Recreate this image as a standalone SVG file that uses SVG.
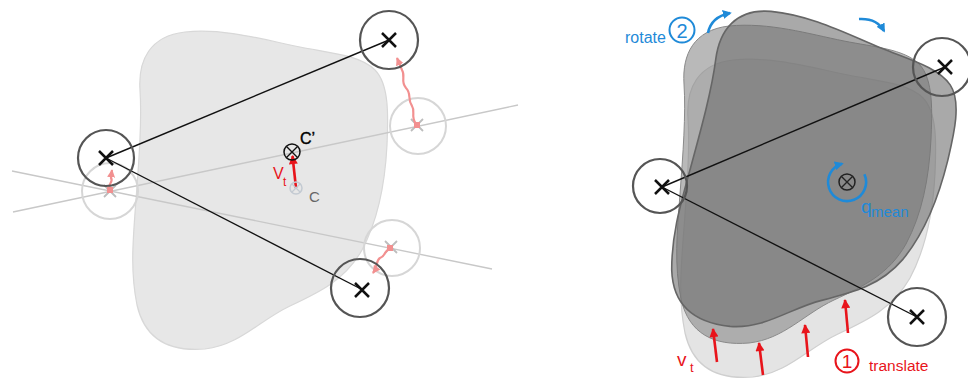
<svg xmlns="http://www.w3.org/2000/svg" width="968" height="379" viewBox="0 0 968 379">
<style>
text{font-family:"Liberation Sans",Arial,sans-serif}
.ring{fill:none;stroke:#555;stroke-width:2.2}
.faint{fill:none;stroke:#d6d6d6;stroke-width:2}
.xm{stroke:#111;stroke-width:2.5;fill:none}
.fx{stroke:#bdbdbd;stroke-width:1.8;fill:none}
.link{stroke:#111;stroke-width:1.4;fill:none}
.guide{stroke:#c8c8c8;stroke-width:1.4;fill:none}
.pink{stroke:#f29090;stroke-width:2.2;fill:none;marker-end:url(#pk)}
.red{stroke:#e8141b;stroke-width:2.6;fill:none;marker-end:url(#rd)}
.blue{stroke:#1f8ad8;stroke-width:2.6;fill:none;marker-end:url(#bl)}
.blk{fill:#e7e7e7;stroke:#d8d8d8;stroke-width:1.2}
</style>
<defs>
<path id="blob" d="M140,90 C138,60 150,36 185,32 C225,28 265,40 300,47 C330,53 360,55 375,70 C390,85 388,120 387,145 C385,185 378,220 362,250 C345,280 320,292 290,306 C260,320 240,345 205,349 C170,352 145,340 137,305 C130,270 133,240 136,200 C139,160 142,120 140,90 Z"/>
<marker id="rd" viewBox="0 0 10 10" refX="9" refY="5" markerWidth="10" markerHeight="9" markerUnits="userSpaceOnUse" orient="auto"><path d="M0,0 L10,5 L0,10 z" fill="#e8141b"/></marker>
<marker id="pk" viewBox="0 0 10 10" refX="9" refY="5" markerWidth="8" markerHeight="8" markerUnits="userSpaceOnUse" orient="auto"><path d="M0,0 L10,5 L0,10 z" fill="#f29090"/></marker>
<marker id="bl" viewBox="0 0 10 10" refX="8" refY="5" markerWidth="9" markerHeight="9" markerUnits="userSpaceOnUse" orient="auto"><path d="M0,0 L10,5 L0,10 z" fill="#1f8ad8"/></marker>
</defs>

<!-- Left panel -->
<g id="left-shape"><use href="#blob" class="blk"/></g>
<g id="guides">
<line class="guide" x1="13" y1="212" x2="518" y2="105"/>
<line class="guide" x1="12" y1="171" x2="492" y2="269"/>
</g>
<g id="faint-left"><circle class="faint" cx="110" cy="191" r="28"/><path class="fx" d="M104,185 L116,197 M116,185 L104,197"/><rect x="107" y="187" width="6" height="6" fill="#f29090"/></g>
<g id="faint-right"><circle class="faint" cx="418" cy="126" r="28"/><path class="fx" d="M411,119 L423,131 M423,119 L411,131"/><rect x="414" y="122" width="6" height="6" fill="#f29090"/></g>
<g id="faint-bottom"><circle class="faint" cx="392" cy="248" r="28"/><path class="fx" d="M385,241 L397,253 M397,241 L385,253"/><rect x="387" y="245" width="6" height="6" fill="#f29090"/></g>
<g id="left-connectors">
<line class="link" x1="106" y1="158" x2="389" y2="40"/>
<line class="link" x1="106" y1="158" x2="361" y2="289"/>
<path class="pink" d="M416,124 C410,116 416,112 412,106 C407,99 412,94 406,88 C400,81 406,76 402,70 L397,58"/>
<path class="pink" d="M390,249 C384,250 386,256 380,258 C376,260 378,266 373,273"/>
<path class="pink" d="M110,189 C107,184 114,182 111,178 L112,170"/>
<path class="red" d="M296,188 L292.5,156"/>
</g>
<g id="node-tl"><circle class="ring" cx="389" cy="40" r="29"/><path class="xm" d="M382,33 L396,47 M396,33 L382,47"/></g>
<g id="node-l"><circle class="ring" cx="106" cy="158" r="28"/><path class="xm" d="M99,151 L113,165 M113,151 L99,165"/></g>
<g id="node-br"><circle class="ring" cx="360" cy="288" r="29"/><path class="xm" d="M355,283 L369,297 M369,283 L355,297"/></g>
<g id="centre-c"><circle cx="296" cy="188" r="6" fill="none" stroke="#c3cad2" stroke-width="1.5"/><path d="M292,184 L300,192 M300,184 L292,192" stroke="#c3cad2" stroke-width="1.2"/><text x="309" y="202" font-size="15" fill="#666">C</text></g>
<g id="centre-c2"><circle cx="292" cy="152" r="8" fill="none" stroke="#111" stroke-width="1.5"/><path d="M286.5,146.5 L297.5,157.5 M297.5,146.5 L286.5,157.5" stroke="#111" stroke-width="1.4"/><text x="300" y="144" font-size="16" fill="#000" stroke="#000" stroke-width="0.4">C’</text></g>
<g id="vt-left"><text x="273" y="179" font-size="16" fill="#e8141b">V</text><text x="283" y="186" font-size="12" fill="#e8141b">t</text></g>

<!-- Right panel -->
<g id="shape-original"><use href="#blob" transform="translate(548,28)" fill="#e4e4e4" stroke="#cfcfcf" stroke-width="1.2"/></g>
<g id="shape-translated"><use href="#blob" transform="translate(544,-6)" fill="#808080" fill-opacity="0.55" stroke="#8a8a8a" stroke-width="1"/></g>
<g id="shape-rotated"><use href="#blob" transform="translate(10,5) rotate(11 847 182) translate(544,-6)" fill="#707070" fill-opacity="0.6" stroke="#666" stroke-width="1.6"/></g>
<g id="right-connectors">
<line class="link" x1="662" y1="187" x2="945" y2="67"/>
<line class="link" x1="662" y1="187" x2="917" y2="317"/>
<path class="red" d="M717,362 L713,329"/>
<path class="red" d="M763,375 L759,343"/>
<path class="red" d="M808,357 L805,325"/>
<path class="red" d="M848,333 L845,300"/>
<path class="blue" d="M708,33 Q711,17 730,13"/>
<path class="blue" d="M859,19 Q877,18 884,31"/>
<path class="blue" d="M864.4,174.3 A19,19 0 1 1 842,163.8"/>
</g>
<g id="node-r-tr"><circle class="ring" cx="942" cy="67" r="29"/><path class="xm" d="M938,60 L952,74 M952,60 L938,74"/></g>
<g id="node-r-l"><circle class="ring" cx="660" cy="186" r="27"/><path class="xm" d="M655,180 L669,194 M669,180 L655,194"/></g>
<g id="node-r-br"><circle class="ring" cx="917" cy="317" r="29"/><path class="xm" d="M910,310 L924,324 M924,310 L910,324"/></g>
<g id="centre-mean"><circle cx="847" cy="182" r="8" fill="none" stroke="#222" stroke-width="1.5"/><path d="M841.5,176.5 L852.5,187.5 M852.5,176.5 L841.5,187.5" stroke="#222" stroke-width="1.4"/></g>
<g id="q-label"><text x="861" y="213" font-size="19" fill="#1f8ad8">q</text><text x="871" y="217" font-size="15" fill="#1f8ad8">mean</text></g>
<g id="rotate-label"><text x="625" y="43" font-size="16" fill="#1f8ad8">rotate</text><circle cx="682" cy="30" r="12.5" fill="none" stroke="#1f8ad8" stroke-width="2"/><text x="682" y="37.5" font-size="20" fill="#1f8ad8" text-anchor="middle">2</text></g>
<g id="translate-label"><circle cx="847" cy="361" r="11.5" fill="none" stroke="#e8141b" stroke-width="2"/><text x="847" y="368" font-size="19" fill="#e8141b" text-anchor="middle">1</text><text x="869" y="371" font-size="15.5" fill="#e8141b">translate</text></g>
<g id="vt-right"><text x="677" y="366" font-size="19" fill="#e8141b">v</text><text x="690" y="372" font-size="13" fill="#e8141b">t</text></g>
</svg>
